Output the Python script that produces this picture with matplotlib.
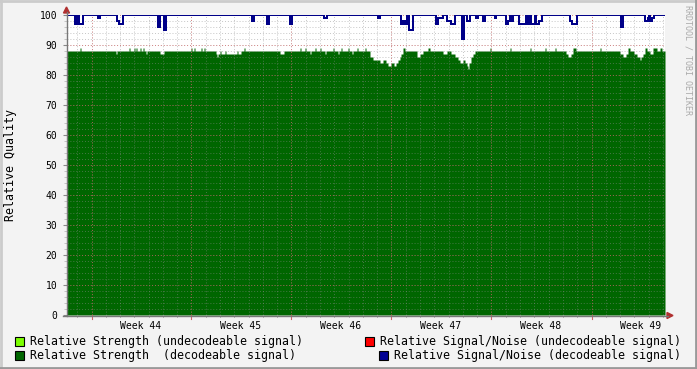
import matplotlib
matplotlib.use("Agg")
import matplotlib.pyplot as plt
import matplotlib.patches as mpatches
from matplotlib.lines import Line2D
import numpy as np

W, H = 697, 369
STEP_DAYS = 0.07          # one sample = 1/100 week
N_SAMPLES = 598
FIRST = 67                # sample numbering of the breakpoints below

# --- data: sample where a level starts, and the level held from there on ---
green_at = [67, 80, 81, 116, 117, 129, 130, 134, 135, 136,
            137, 140, 141, 143, 144, 146, 147, 160, 164, 191,
            192, 194, 195, 201, 202, 204, 205, 216, 217, 218,
            220, 221, 225, 226, 237, 238, 241, 244, 245, 280,
            284, 300, 301, 305, 306, 310, 311, 315, 316, 320,
            321, 325, 326, 333, 334, 338, 339, 341, 342, 348,
            349, 352, 353, 357, 358, 365, 366, 370, 373, 380,
            383, 386, 388, 391, 394, 396, 398, 400, 401, 403,
            405, 417, 420, 423, 428, 430, 443, 447, 451, 455,
            458, 460, 463, 465, 467, 468, 469, 471, 473, 475,
            490, 491, 510, 511, 530, 531, 545, 546, 555, 556,
            566, 568, 571, 573, 576, 600, 601, 620, 623, 626,
            628, 630, 634, 637, 640, 641, 643, 645, 647, 650,
            653, 657, 660, 662]
green_val = [88, 89, 88, 87, 88, 89, 88, 89, 88, 89,
             88, 89, 88, 89, 88, 87, 88, 87, 88, 89,
             88, 89, 88, 89, 88, 89, 88, 87, 86, 87,
             88, 87, 88, 87, 88, 87, 88, 89, 88, 87,
             88, 89, 88, 89, 88, 87, 88, 89, 88, 89,
             88, 87, 88, 89, 88, 87, 88, 89, 88, 89,
             88, 87, 88, 89, 88, 89, 88, 86, 85, 84,
             85, 84, 83, 84, 83, 84, 85, 86, 87, 89,
             88, 86, 87, 88, 89, 88, 87, 88, 87, 86,
             85, 84, 85, 84, 83, 82, 84, 86, 87, 88,
             89, 88, 89, 88, 89, 88, 89, 88, 89, 88,
             87, 86, 87, 89, 88, 89, 88, 87, 86, 87,
             89, 88, 87, 86, 85, 86, 87, 89, 88, 87,
             89, 88, 89, 88]

blue_at = [67, 75, 77, 79, 83, 98, 100, 117, 119, 123,
           158, 160, 164, 166, 252, 254, 267, 269, 290, 292,
           324, 327, 378, 380, 401, 403, 405, 407, 409, 413,
           436, 438, 443, 447, 451, 455, 462, 464, 467, 470,
           476, 478, 483, 485, 495, 496, 506, 508, 510, 511,
           513, 519, 526, 527, 528, 529, 530, 531, 535, 536,
           539, 542, 570, 572, 577, 621, 623, 645, 648, 649,
           650, 652, 654]
blue_val = [100, 97, 100, 97, 100, 99, 100, 98, 97, 100,
            96, 100, 95, 100, 98, 100, 97, 100, 97, 100,
            99, 100, 99, 100, 97, 98, 97, 100, 95, 100,
            97, 99, 100, 98, 97, 100, 92, 100, 98, 100,
            99, 100, 98, 100, 99, 100, 97, 98, 100, 98,
            100, 97, 100, 97, 100, 97, 100, 97, 100, 97,
            98, 100, 98, 97, 100, 96, 100, 98, 99, 100,
            98, 99, 100]

week_labels = ["Week 44", "Week 45", "Week 46", "Week 47", "Week 48", "Week 49"]
week_label_pos = [5.18, 12.18, 19.18, 26.18, 33.18, 40.18]   # days
major_grid_days = [1.715, 8.715, 15.715, 22.715, 29.715, 36.715]
y_major = list(range(0, 101, 10))
y_minor = list(range(0, 101, 2))


def expand(at, val):
    assert len(at) == len(val)
    out = np.empty(N_SAMPLES)
    bounds = [a - FIRST for a in at] + [N_SAMPLES]
    for i, v in enumerate(val):
        out[bounds[i]:bounds[i + 1]] = v
    return out


green = expand(green_at, green_val)
blue = expand(blue_at, blue_val)
t = np.arange(N_SAMPLES + 1) * STEP_DAYS
green = np.append(green, green[-1])
blue = np.append(blue, blue[-1])

plt.rcParams["font.family"] = "DejaVu Sans Mono"

fig = plt.figure(figsize=(W / 100, H / 100), dpi=100, facecolor="#f3f3f3")


def fx(px):
    return px / W


def fy(py):
    return 1 - py / H


ax = fig.add_axes([fx(67), fy(315), 598 / W, 300 / H])
ax.set_facecolor("white")
ax.set_xlim(0, N_SAMPLES * STEP_DAYS)
ax.set_ylim(0, 100)
for s in ax.spines.values():
    s.set_visible(False)

ax.fill_between(t, 0, green, step="post", color="#006600", lw=0, zorder=1)
ax.step(t, blue, where="post", color="#000088", lw=1.0, zorder=4, antialiased=False)

# grid drawn over the data, rrdtool style
minor_days = np.arange(major_grid_days[0] - 1, N_SAMPLES * STEP_DAYS, 1.0)
grid_kw = dict(lw=0.7, linestyles=(0, (1, 2)), zorder=3)
ax.vlines(minor_days, 0, 100, colors=[(0.55, 0.55, 0.55, 0.5)], **grid_kw)
ax.hlines(y_minor, 0, N_SAMPLES * STEP_DAYS, colors=[(0.55, 0.55, 0.55, 0.5)], **grid_kw)
ax.vlines(major_grid_days, 0, 100, colors=[(0.85, 0.35, 0.35, 0.6)], **grid_kw)
ax.hlines(y_major[1:], 0, N_SAMPLES * STEP_DAYS, colors=[(0.85, 0.35, 0.35, 0.6)], **grid_kw)

ax.set_yticks(y_major)
ax.set_yticklabels([str(v) for v in y_major], fontsize=7)
ax.set_yticks(y_minor, minor=True)
ax.tick_params(axis="y", which="major", length=3, width=0.8, color="#888888", pad=4)
ax.tick_params(axis="y", which="minor", length=2, width=0.6, color="#bbbbbb")
ax.set_xticks(week_label_pos)
ax.set_xticklabels(week_labels, fontsize=7)
ax.tick_params(axis="x", which="major", length=0, pad=4.5)

# x tick marks below axis
trans = ax.get_xaxis_transform()
for d in minor_days:
    ax.plot([d, d], [0, -0.007], color="#aaaaaa", lw=0.6, transform=trans, clip_on=False)
for d in major_grid_days:
    ax.plot([d, d], [0, -0.012], color="#cc6666", lw=0.8, transform=trans, clip_on=False)

# axis lines with arrows
fig.add_artist(Line2D([fx(66.5), fx(66.5)], [fy(316), fy(12)], color="#777777", lw=1.0))
fig.add_artist(Line2D([fx(63), fx(668)], [fy(315.5), fy(315.5)], color="#777777", lw=1.0))
fig.add_artist(mpatches.Polygon([[fx(63.5), fy(13)], [fx(69.5), fy(13)], [fx(66.5), fy(7)]],
                                closed=True, color="#b03030", transform=fig.transFigure))
fig.add_artist(mpatches.Polygon([[fx(667), fy(312.5)], [fx(667), fy(318.5)], [fx(673), fy(315.5)]],
                                closed=True, color="#b03030", transform=fig.transFigure))

fig.text(fx(11), fy(165), "Relative Quality", rotation=90, ha="center", va="center", fontsize=8.4)
fig.text(fx(688), fy(5), "RRDTOOL / TOBI OETIKER", rotation=270, ha="center", va="top",
         fontsize=6, color="#aaaaaa")

# legend
legend_rows = [
    (15, 341, "#7cff00", "Relative Strength (undecodeable signal)"),
    (365, 341, "#ff0000", "Relative Signal/Noise (undecodeable signal)"),
    (15, 355, "#006600", "Relative Strength  (decodeable signal)"),
    (379, 355, "#000094", "Relative Signal/Noise (decodeable signal)"),
]
for x0, yc, col, label in legend_rows:
    fig.add_artist(mpatches.Rectangle((fx(x0), fy(yc + 4.5)), 9 / W, 9 / H, facecolor=col,
                                      edgecolor="black", lw=0.8, transform=fig.transFigure))
    fig.text(fx(x0 + 15), fy(yc), label, ha="left", va="center", fontsize=8.4)

# 3D border
fig.add_artist(Line2D([0, 1], [fy(0.5), fy(0.5)], color="#cbcbcb", lw=2))
fig.add_artist(Line2D([fx(0.5), fx(0.5)], [0, 1], color="#cbcbcb", lw=2))
fig.add_artist(Line2D([0, 1], [fy(368), fy(368)], color="#999999", lw=2))
fig.add_artist(Line2D([fx(696), fx(696)], [0, 1], color="#999999", lw=2))

fig.savefig("out.png", dpi=100, facecolor=fig.get_facecolor())
